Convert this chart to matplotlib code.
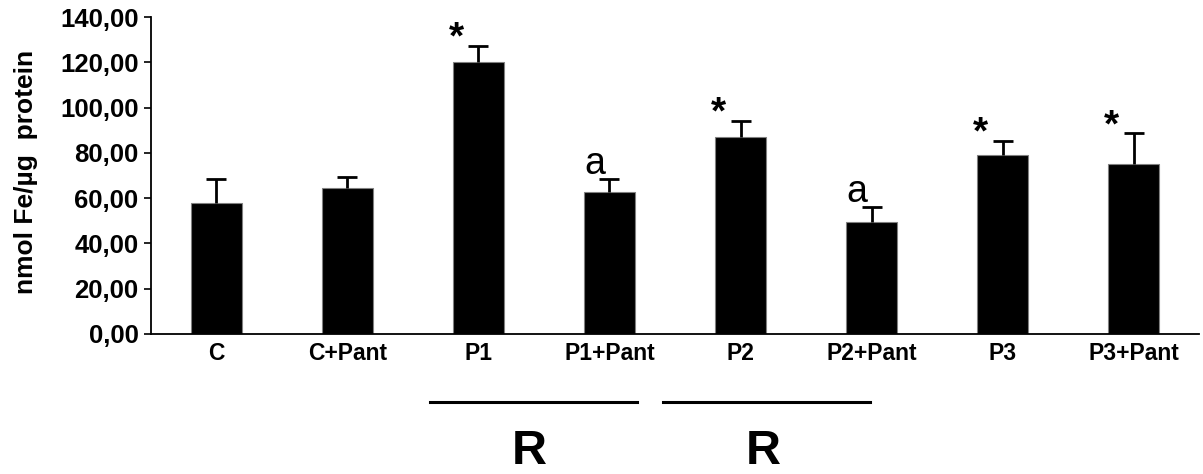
import matplotlib.pyplot as plt
from matplotlib.ticker import FuncFormatter

plt.rcParams["font.family"] = ["Liberation Sans", "DejaVu Sans"]

# ─── Data ──────────────────────────────────────────────────────────────────
groups = ["C", "C+Pant", "P1", "P1+Pant", "P2", "P2+Pant", "P3", "P3+Pant"]
means = [57.9, 64.5, 120.3, 62.6, 86.9, 49.6, 78.9, 75.2]
errors = [10.6, 4.8, 6.9, 5.9, 7.2, 6.6, 6.3, 13.4]
marks = ["", "", "*", "a", "*", "a", "*", "*"]

# bracket spans (in category units) and the label under each
bracket_spans = [(1.63, 3.21), (3.41, 4.99)]
bracket_labels = ["R", "R"]

fig = plt.figure(figsize=(12.03, 4.74), dpi=100)
ax = fig.add_axes([0.1255, 0.2954, 0.8712, 0.6686])

x = list(range(len(groups)))
tops = [m + e for m, e in zip(means, errors)]

ax.bar(x, means, width=0.39, color="black", edgecolor="#808080", linewidth=0.8,
       zorder=2)
# upper-only error bars, cap only at the top
ax.errorbar(x, means, yerr=[[0] * len(errors), errors], fmt="none",
            ecolor="black", elinewidth=2, capsize=0, zorder=3)
ax.plot(x, tops, ls="none", marker="_", ms=14, mew=2, color="black", zorder=3)

# significance marks, just left of the error bar caps
for i, (t, s) in enumerate(zip(tops, marks)):
    if not s:
        continue
    if s == "*":
        ax.text(i - 0.17, t + 3.2, s, fontsize=28, fontweight="bold",
                ha="center", va="center")
    else:
        ax.text(i - 0.11, t + 6.5, s, fontsize=27, ha="center", va="center")

ax.set_xlim(-0.5, len(groups) - 0.5)
ax.set_ylim(0, 140)
ax.set_yticks(range(0, 141, 20))
ax.yaxis.set_major_formatter(FuncFormatter(lambda v, p: f"{v:.2f}".replace(".", ",")))
ax.set_xticks(x)
ax.set_xticklabels(groups)

for lab in ax.get_yticklabels():
    lab.set_fontweight("bold")
    lab.set_fontsize(18.5)
for lab in ax.get_xticklabels():
    lab.set_fontweight("bold")
    lab.set_fontsize(16.5)

ax.tick_params(axis="y", direction="out", length=5, width=1.2, pad=4)
ax.tick_params(axis="x", length=0, pad=6)
ax.spines["top"].set_visible(False)
ax.spines["right"].set_visible(False)
ax.spines["left"].set_linewidth(1.3)
ax.spines["bottom"].set_linewidth(1.3)

ax.set_ylabel("nmol Fe/µg  protein", fontsize=19, fontweight="bold", labelpad=12)
ax.yaxis.set_label_coords(-0.108, 0.51)

# group brackets below the axis
trans = ax.get_xaxis_transform()
for (x0, x1), lab in zip(bracket_spans, bracket_labels):
    ax.plot([x0, x1], [-0.215, -0.215], color="black", lw=2.2,
            transform=trans, clip_on=False)
    ax.text((x0 + x1) / 2 - 0.03, -0.37, lab, fontsize=35, fontweight="bold",
            ha="center", va="center", transform=trans)

fig.savefig("out.png", dpi=100)
